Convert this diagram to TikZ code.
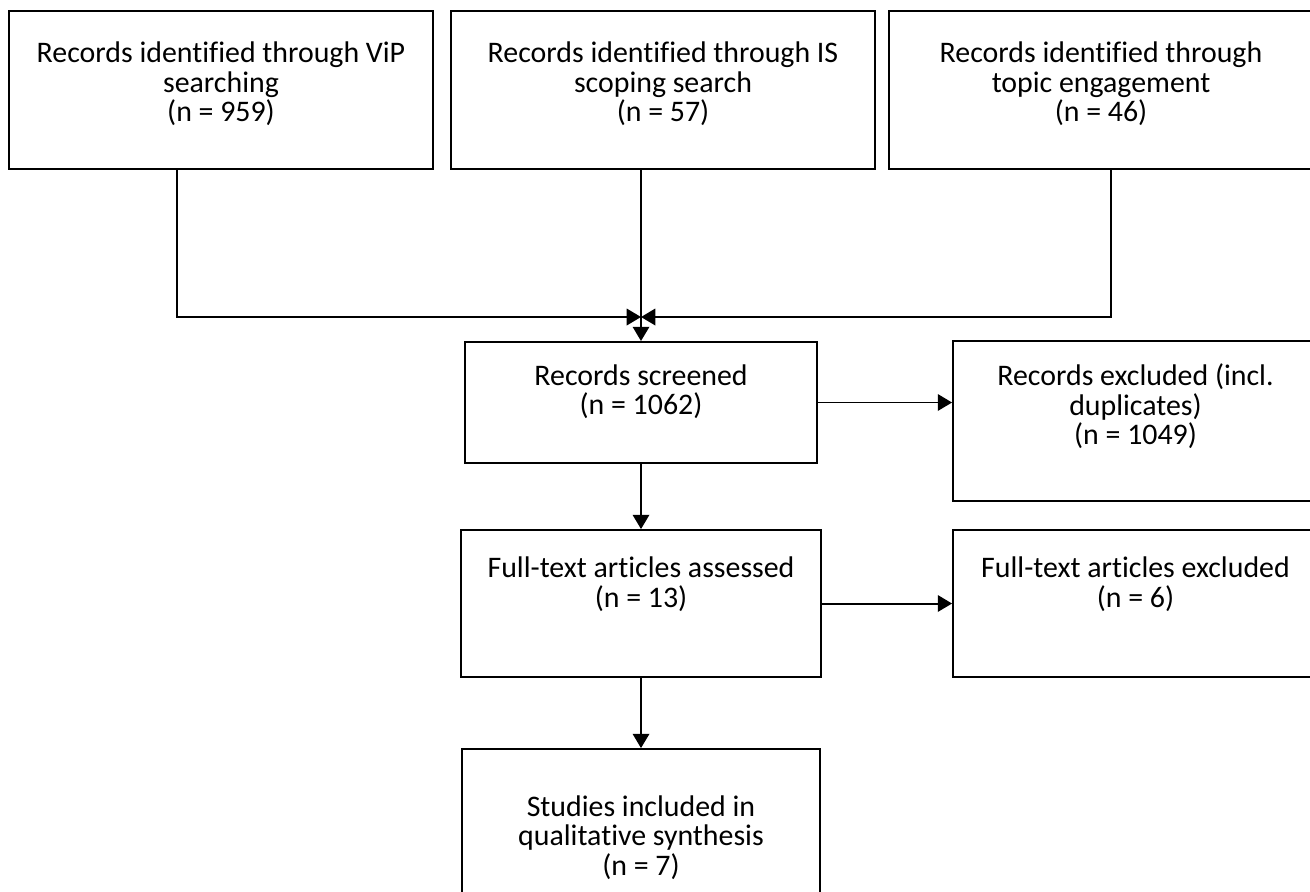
\documentclass[tikz,border=0pt]{standalone}
\usepackage{fontspec}
\setmainfont{Carlito}[Ligatures=NoCommon]
\usetikzlibrary{arrows.meta}

\begin{document}
\begin{tikzpicture}[
    x=0.016cm, y=0.016cm,
    font=\fontsize{13.6}{13.4}\selectfont,
    box/.style n args={3}{draw, line width=0.9pt, inner sep=0pt,
      execute at begin node={\begin{minipage}[c][#2][t]{#1}\centering\vspace*{#3}},
      execute at end node={\end{minipage}}},
    arrow/.style={-{Triangle[length=6.5pt,width=7.5pt]}, line width=0.9pt}
  ]
    \useasboundingbox (0,0) rectangle (1310,-891);
    \clip (0,0) rectangle (1310,-891);

    % Identification
    \node[box={193pt}{71.9pt}{14.2pt}] (vip) at (221,-90) {Records identified through ViP\\searching\\(n = 959)};
    \node[box={193pt}{71.9pt}{14.2pt}] (scope) at (663,-90) {Records identified through IS\\scoping search\\(n = 57)};
    \node[box={193pt}{71.9pt}{14.2pt}] (topic) at (1101,-90) {Records identified through\\topic engagement\\(n = 46)};
    \coordinate (merge) at (641,-317);

    % Screening
    \node[box={160.2pt}{55.1pt}{10.2pt}] (screened) at (641,-402.5) {Records screened\\(n = 1062)};
    \node[box={166.2pt}{72.8pt}{10.5pt}] (excl) at (1135.5,-421) {Records excluded (incl.\\duplicates)\\(n = 1049)};

    % Eligibility
    \node[box={163.9pt}{66.9pt}{12.2pt}] (fulltext) at (641,-603.5) {Full-text articles assessed\\(n = 13)};
    \node[box={166.2pt}{66.9pt}{12.2pt}] (ftexcl) at (1135.5,-603.5) {Full-text articles excluded\\(n = 6)};

    % Included
    \node[box={163pt}{72.8pt}{21.2pt}] (studies) at (641,-829) {Studies included in\\qualitative synthesis\\(n = 7)};

    % Flow
    \draw[arrow] ([shift={(-44,0)}]vip.south) |- (merge);
    \draw[arrow] ([shift={(10,0)}]topic.south) |- (merge);
    \draw[arrow] (scope.south -| merge) -- (screened.north);
    \draw[arrow] (screened.east) -- (screened.east -| excl.west);
    \draw[arrow] (screened.south) -- (fulltext.north);
    \draw[arrow] (fulltext.east) -- (fulltext.east -| ftexcl.west);
    \draw[arrow] (fulltext.south) -- (studies.north);
  \end{tikzpicture}
\end{document}
